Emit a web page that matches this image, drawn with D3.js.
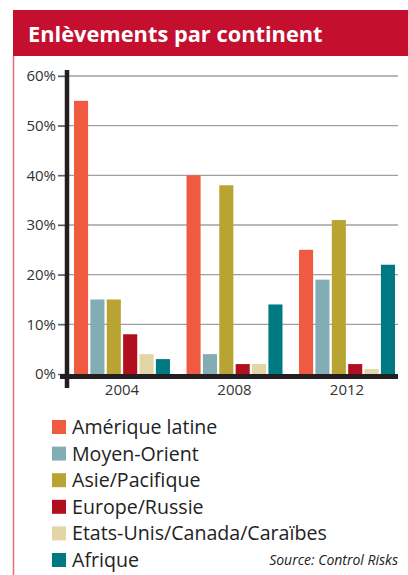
<!DOCTYPE html>
<html>
<head>
<meta charset="utf-8">
<script src="https://cdn.jsdelivr.net/npm/d3@7"></script>
<style>
  body { margin: 0; background: #fff; }
  svg { display: block; font-family: "Open Sans", sans-serif; }
</style>
</head>
<body>
<div id="chart"></div>
<script>
var width = 408;
var height = 575;

// data
var years = ["2004", "2008", "2012"];
var regions = ["Amérique latine", "Moyen-Orient", "Asie/Pacifique", "Europe/Russie", "Etats-Unis/Canada/Caraïbes", "Afrique"];
var colors = ["#f05a40", "#82adb5", "#b9a433", "#b10f1f", "#e2d5a6", "#007a82"];
var values2004 = [55, 15, 15, 8, 4, 3];
var values2008 = [40, 4, 38, 2, 2, 14];
var values2012 = [25, 19, 31, 2, 1, 22];
var yTicks = [0, 10, 20, 30, 40, 50, 60];

var seriesByYear = [values2004, values2008, values2012];

var svg = d3.select("#chart")
    .append("svg")
    .attr("width", width)
    .attr("height", height);

// title band
svg.append("rect")
    .attr("x", 13).attr("y", 10)
    .attr("width", width - 13).attr("height", 46)
    .attr("fill", "#c4102e");
svg.append("line")
    .attr("x1", 13.5).attr("x2", 13.5)
    .attr("y1", 56).attr("y2", height)
    .attr("stroke", "#e06a7c").attr("stroke-width", 1.5);
svg.append("text")
    .attr("x", 28).attr("y", 42)
    .attr("fill", "#fff")
    .attr("font-size", "21.8px")
    .attr("font-weight", "bold")
    .text("Enlèvements par continent");

// scales
var y = d3.scaleLinear().domain([0, 60]).range([374, 76]);
var x0 = d3.scaleBand().domain(years).range([74, 395]).paddingInner(0.147);
var x1 = d3.scaleBand().domain(d3.range(regions.length)).range([0, x0.bandwidth()]).paddingInner(0.14);

// gridlines
svg.append("g")
    .selectAll("line")
    .data(yTicks)
    .enter().append("line")
        .attr("x1", 58).attr("x2", 398)
        .attr("y1", function(d){ return y(d); })
        .attr("y2", function(d){ return y(d); })
        .attr("stroke", function(d, i){ return i == 0 ? "none" : "#a0a0a0"; })
        .attr("stroke-width", 1.3);

// small ticks left of the axis
var yAxis = d3.axisLeft(y).tickValues(yTicks).tickSize(9).tickPadding(2)
    .tickFormat(function(d){ return d + "%"; });
var gy = svg.append("g").attr("transform", "translate(67,0)").call(yAxis);
gy.select(".domain").remove();
gy.selectAll(".tick line").attr("stroke", "#555").attr("stroke-width", 1.3);
gy.selectAll(".tick text")
    .attr("font-size", "15px")
    .attr("font-family", "Open Sans, sans-serif")
    .attr("fill", "#333");

// bars
var groups = svg.append("g")
    .selectAll("g")
    .data(years)
    .enter().append("g")
        .attr("transform", function(d){ return "translate(" + x0(d) + ",0)"; });

groups.selectAll("rect")
    .data(function(d, i){ return seriesByYear[i]; })
    .enter().append("rect")
        .attr("x", function(d, i){ return x1(i); })
        .attr("y", function(d){ return y(d); })
        .attr("width", x1.bandwidth())
        .attr("height", function(d){ return y(0) - y(d); })
        .attr("fill", function(d, i){ return colors[i]; });

// thick axes
svg.append("line")
    .attr("x1", 60).attr("x2", 398)
    .attr("y1", 376.5).attr("y2", 376.5)
    .attr("stroke", "#231f20").attr("stroke-width", 5);
svg.append("line")
    .attr("x1", 67).attr("x2", 67)
    .attr("y1", 70).attr("y2", 388)
    .attr("stroke", "#231f20").attr("stroke-width", 4.5);

// year labels
svg.append("g")
    .selectAll("text")
    .data(years)
    .enter().append("text")
        .attr("x", function(d){ return x0(d) + x0.bandwidth() / 2; })
        .attr("y", 395)
        .attr("text-anchor", "middle")
        .attr("font-size", "15px")
        .attr("fill", "#333")
        .text(function(d){ return d; });

// legend
var legend = svg.append("g")
    .selectAll("g")
    .data(regions)
    .enter().append("g")
        .attr("transform", function(d, i){ return "translate(52," + (427 + i * 26.6) + ")"; });
legend.append("rect")
    .attr("x", 0).attr("y", -7)
    .attr("width", 14).attr("height", 14)
    .attr("fill", function(d, i){ return colors[i]; });
legend.append("text")
    .attr("x", 20).attr("y", 7)
    .attr("font-size", "19.6px")
    .attr("fill", "#222")
    .text(function(d){ return d; });

svg.append("text")
    .attr("x", 398).attr("y", 565)
    .attr("text-anchor", "end")
    .attr("font-size", "14px")
    .attr("font-style", "italic")
    .attr("fill", "#222")
    .text("Source: Control Risks");
</script>
</body>
</html>
